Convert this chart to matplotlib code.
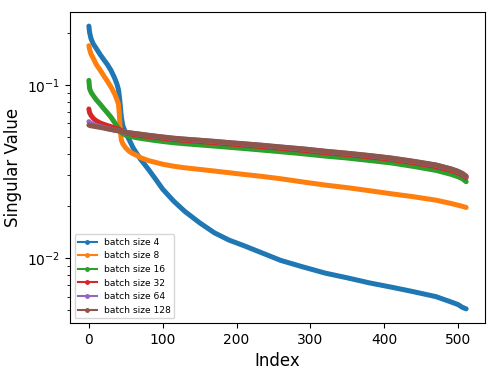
import matplotlib
matplotlib.use("Agg")
import matplotlib.pyplot as plt
from matplotlib.lines import Line2D

# singular values at these indices
IDX = [0, 1, 3, 6, 10, 15, 20, 25, 30, 35, 38, 40, 41, 42, 43, 44, 46, 50, 55, 60,
       65, 70, 80, 90, 100, 115, 130, 150, 170, 190, 210, 235, 260, 290, 320, 350,
       380, 410, 440, 470, 490, 500, 506, 511]

BS4 = [0.218, 0.200, 0.184, 0.172, 0.162, 0.150, 0.140, 0.131, 0.121, 0.109, 0.101,
       0.094, 0.088, 0.080, 0.072, 0.065, 0.058, 0.0525, 0.0478, 0.0432, 0.0400,
       0.0372, 0.0328, 0.0287, 0.0250, 0.0213, 0.0186, 0.0160, 0.0140, 0.0127,
       0.0118, 0.0107, 0.0097, 0.0089, 0.0082, 0.0077, 0.0072, 0.0068, 0.0064,
       0.0060, 0.0056, 0.0054, 0.0052, 0.0051]
BS8 = [0.168, 0.160, 0.150, 0.142, 0.131, 0.122, 0.113, 0.105, 0.097, 0.0885, 0.082,
       0.0775, 0.070, 0.060, 0.052, 0.048, 0.0456, 0.0432, 0.0412, 0.0400, 0.0391,
       0.0380, 0.0366, 0.0357, 0.0348, 0.0339, 0.0332, 0.0325, 0.0318, 0.0311,
       0.0304, 0.0296, 0.0287, 0.0275, 0.0264, 0.0255, 0.0245, 0.0235, 0.0226,
       0.0216, 0.0207, 0.0202, 0.0199, 0.0196]
BS16 = [0.106, 0.095, 0.0905, 0.0865, 0.0820, 0.0775, 0.0730, 0.0690, 0.0650, 0.0605,
        0.0578, 0.0560, 0.0552, 0.0545, 0.0538, 0.0532, 0.0523, 0.0512, 0.0505,
        0.0500, 0.0495, 0.0491, 0.0484, 0.0477, 0.0471, 0.0463, 0.0457, 0.0450,
        0.0443, 0.0436, 0.0429, 0.0420, 0.0411, 0.0400, 0.0388, 0.0378, 0.0366,
        0.0354, 0.0338, 0.0321, 0.0305, 0.0295, 0.0287, 0.0276]
BS32 = [0.0725, 0.0690, 0.0665, 0.0640, 0.0620, 0.0603, 0.0592, 0.0582, 0.0573,
        0.0563, 0.0558, 0.0555, 0.0553, 0.0550, 0.0547, 0.0544, 0.0539, 0.0530,
        0.0523, 0.0518, 0.0514, 0.0510, 0.0504, 0.0498, 0.0492, 0.0484, 0.0478,
        0.0471, 0.0464, 0.0456, 0.0449, 0.0440, 0.0430, 0.0419, 0.0406, 0.0396,
        0.0384, 0.0371, 0.0355, 0.0338, 0.0321, 0.0311, 0.0302, 0.0291]
BS64 = [0.0613, 0.0605, 0.0598, 0.0590, 0.0582, 0.0574, 0.0567, 0.0560, 0.0553,
        0.0547, 0.0544, 0.0542, 0.0541, 0.0540, 0.0539, 0.0538, 0.0536, 0.0532,
        0.0528, 0.0525, 0.0521, 0.0518, 0.0511, 0.0505, 0.0499, 0.0491, 0.0485,
        0.0478, 0.0471, 0.0463, 0.0456, 0.0447, 0.0437, 0.0426, 0.0413, 0.0402,
        0.0390, 0.0377, 0.0361, 0.0344, 0.0327, 0.0316, 0.0307, 0.0296]
BS128 = [0.0585, 0.0583, 0.0580, 0.0577, 0.0573, 0.0568, 0.0563, 0.0557, 0.0552,
         0.0547, 0.0544, 0.0542, 0.0541, 0.0540, 0.0539, 0.0538, 0.0536, 0.0532,
         0.0529, 0.0525, 0.0522, 0.0519, 0.0512, 0.0506, 0.0500, 0.0492, 0.0486,
         0.0479, 0.0472, 0.0464, 0.0457, 0.0448, 0.0438, 0.0427, 0.0414, 0.0403,
         0.0391, 0.0378, 0.0362, 0.0345, 0.0328, 0.0317, 0.0308, 0.0297]

SERIES = [BS4, BS8, BS16, BS32, BS64, BS128]
LABELS = ["batch size 4", "batch size 8", "batch size 16",
          "batch size 32", "batch size 64", "batch size 128"]
COLORS = ["C0", "C1", "C2", "C3", "C4", "C5"]

fig = plt.figure(figsize=(4.98, 3.74), dpi=100)
ax = fig.add_axes([0.1406, 0.1364, 0.8333, 0.8316])

handles = []
for vals, lab, col in zip(SERIES, LABELS, COLORS):
    # dense markers in the original merge into a thick band, so draw a thick line
    ax.plot(IDX, vals, color=col, lw=3.6,
            solid_capstyle="round", solid_joinstyle="round")
    handles.append(Line2D([], [], color=col, marker=".", lw=1.5, ms=5, label=lab))

ax.set_yscale("log")
ax.set_xlabel("Index", fontsize=12)
ax.set_ylabel("Singular Value", fontsize=12)
ax.tick_params(labelsize=10)
ax.legend(handles=handles, loc="lower left", fontsize=6.6)

fig.savefig("out.png", dpi=100)
